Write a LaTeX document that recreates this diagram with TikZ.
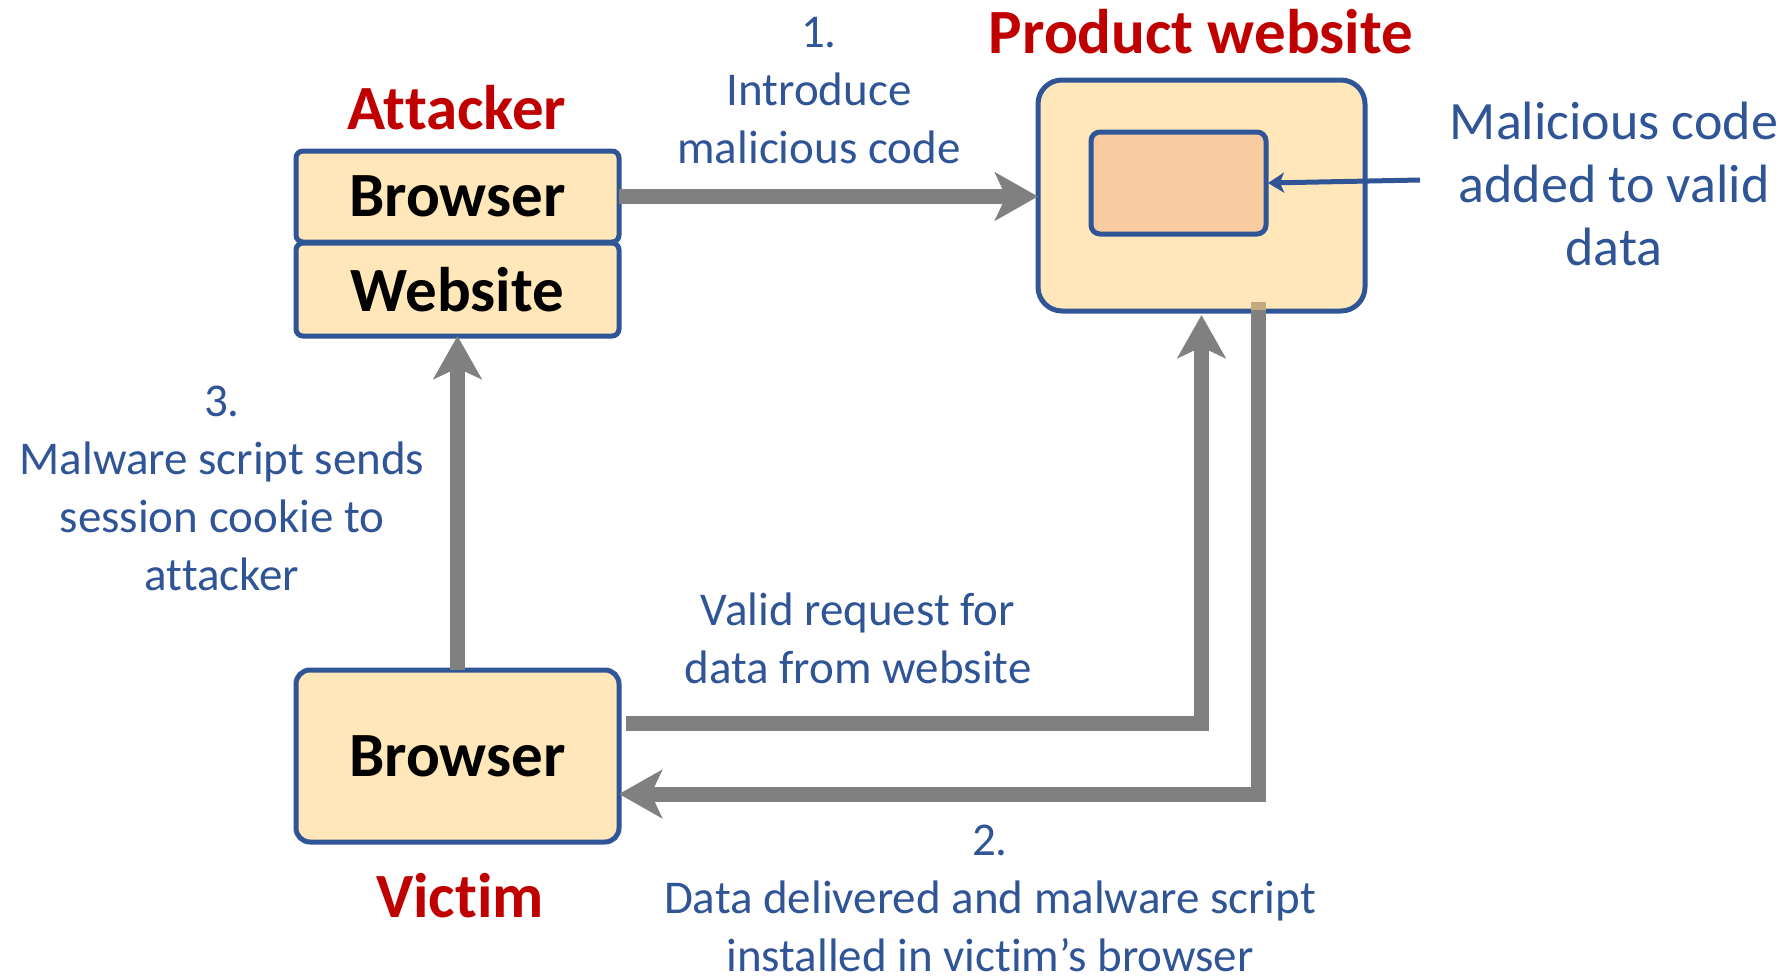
\documentclass[tikz,border=0pt]{standalone}
\usepackage{fontspec}
\setmainfont{Carlito}[Ligatures=NoCommon]
\usetikzlibrary{arrows.meta}
\definecolor{boxblue}{HTML}{2F5597}
\definecolor{boxfill}{HTML}{FFE7B9}
\definecolor{innerfill}{HTML}{F8CBA0}
\definecolor{titlered}{HTML}{C00000}
\definecolor{arrowgray}{HTML}{808080}
\definecolor{overlaptan}{HTML}{C2AA7E}
\tikzset{
  box/.style={draw=boxblue, line width=5pt, fill=boxfill, inner sep=0pt, outer sep=0pt,
              font=\fontsize{63}{70}\selectfont\bfseries},
  title/.style={text=titlered, inner sep=0pt, font=\fontsize{63}{70}\selectfont\bfseries},
  lbl/.style={text=boxblue, inner sep=0pt, align=center, font=\fontsize{47}{58}\selectfont},
  biglbl/.style={lbl, font=\fontsize{54}{63}\selectfont},
  flow/.style={draw=arrowgray, line width=15pt,
               -{Stealth[length=43pt,width=48pt,inset=11pt]}},
  pointer/.style={draw=boxblue, line width=5pt,
               -{Stealth[length=16pt,width=20pt,inset=4pt]}}
}
\begin{document}
\begin{tikzpicture}[x=1pt,y=-1pt]
\useasboundingbox (0,0) rectangle (1788,977);
% attacker
\node[title] (attacker) at (457,108) {Attacker};
\node[box, rounded corners=7pt, minimum width=323pt, minimum height=91pt] (abrowser) at (457.5,196.5) {Browser};
\node[box, rounded corners=7pt, minimum width=323pt, minimum height=93pt] (awebsite) at (457.5,289.5) {Website};
% product website
\node[title] (ptitle) at (1201,32) {Product website};
\node[box, rounded corners=24pt, minimum width=327pt, minimum height=231pt] (product) at (1201.5,195.5) {};
\node[box, fill=innerfill, rounded corners=9pt, minimum width=175pt, minimum height=102pt] (inner) at (1178.5,183) {};
% victim
\node[box, rounded corners=14pt, minimum width=323pt, minimum height=172pt] (vbrowser) at (457.5,756) {Browser};
\node[title] (victim) at (460,896) {Victim};
% labels
\node[lbl] (l1) at (819,91) {1.\\Introduce\\malicious code};
\node[biglbl] (lmal) at (1614,184) {Malicious code\\added to valid\\data};
\node[lbl] (l3) at (222,488) {3.\\Malware script sends\\session cookie to\\attacker};
\node[lbl] (lreq) at (858,638) {Valid request for\\data from website};
\node[lbl] (l2) at (990,898) {2.\\Data delivered and malware script\\installed in victim’s browser};
% coordinates
\coordinate (rstart) at (1258,302);
\coordinate (mptr) at (1420,180);
% connectors
\draw[flow] (abrowser.east) -- (abrowser.east -| product.west);
\draw[flow] (vbrowser.north) -- (awebsite.south);
\draw[flow] ([xshift=7pt]vbrowser.east |- 0,723) -| ([yshift=-4pt]product.south);
\draw[flow] (rstart) |- (vbrowser.east |- 0,794);
\draw[line width=15pt, overlaptan] (rstart) -- ++(0,8);
\draw[pointer] (mptr) -- ([xshift=2pt]inner.east);
\end{tikzpicture}
\end{document}
